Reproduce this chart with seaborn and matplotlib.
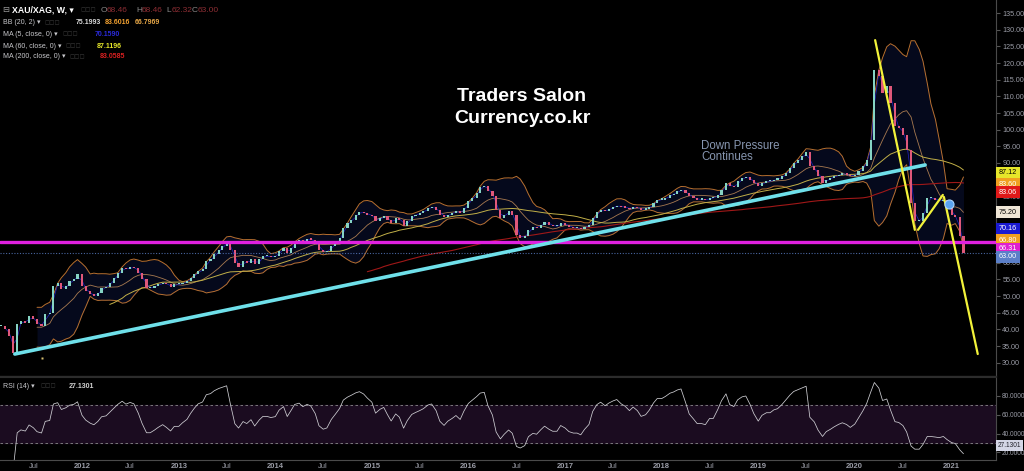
import numpy as np
import pandas as pd
import matplotlib
matplotlib.use("Agg")
import matplotlib.pyplot as plt
import seaborn as sns

# ---------------- data (semi-monthly closes) ----------------
start_date = "2011-03-01"
closes_2011 = [41.0, 40.0, 38.0, 33.0, 41.5, 42.5, 42.0, 44.0, 43.0, 41.5, 41.0, 44.5,
               44.8, 53.0, 54.0, 52.0, 53.0, 54.5, 55.0, 56.5]
closes_2012 = [53.0, 51.5, 50.5, 50.0, 51.0, 52.5, 52.8, 54.0, 55.5, 57.0, 58.5, 58.0,
               58.7, 58.5, 57.0, 55.0, 52.5, 52.5, 53.0, 53.5, 54.0, 53.5, 52.8, 53.5]
closes_2013 = [53.5, 54.0, 54.5, 55.5, 56.5, 57.5, 58.0, 60.5, 61.0, 62.5, 64.0, 65.0,
               66.3, 64.0, 60.0, 58.8, 60.5, 60.0, 61.0, 59.5, 61.0, 62.0, 62.0, 61.8]
closes_2014 = [62.0, 63.5, 64.5, 63.0, 64.5, 66.5, 67.0, 66.5, 67.2, 67.0, 66.0, 64.0,
               63.3, 63.5, 65.0, 66.0, 67.5, 70.5, 72.0, 73.0, 74.5, 75.3, 75.0, 74.5]
closes_2015 = [74.0, 72.5, 73.5, 74.0, 73.0, 72.0, 73.5, 73.0, 71.0, 72.5, 74.0, 74.5,
               75.0, 75.5, 76.5, 76.8, 76.0, 74.5, 73.8, 74.5, 75.0, 75.5, 75.0, 76.5]
closes_2016 = [78.5, 79.5, 81.0, 82.8, 83.2, 81.5, 80.0, 76.0, 73.5, 74.5, 75.5, 74.5,
               68.5, 67.5, 68.0, 70.0, 70.8, 70.5, 71.5, 72.3, 71.5, 71.0, 71.0, 72.0]
closes_2017 = [71.5, 70.8, 70.5, 70.5, 70.2, 70.8, 71.4, 73.5, 75.2, 75.9, 75.5, 76.2,
               76.8, 77.2, 76.8, 76.6, 76.2, 76.8, 76.5, 76.0, 76.2, 76.8, 78.0, 79.0]
closes_2018 = [79.0, 79.5, 80.4, 80.8, 81.5, 81.9, 81.0, 80.0, 79.5, 79.0, 79.0, 78.9,
               79.5, 79.5, 80.5, 82.0, 84.0, 83.0, 82.8, 84.5, 85.5, 85.8, 85.0, 84.0]
closes_2019 = [83.0, 84.0, 84.5, 84.5, 85.0, 85.2, 86.0, 87.0, 88.5, 90.0, 91.0, 92.0,
               93.3, 89.0, 88.0, 86.0, 84.0, 85.0, 85.5, 86.0, 86.5, 86.8, 86.5, 86.0]
closes_2020 = [86.5, 87.5, 89.0, 91.0, 97.0, 118.0, 116.0, 111.0, 113.0, 108.0, 101.0, 100.5,
               98.5, 94.0, 78.0, 72.5, 72.5, 75.0, 79.5, 79.5, 79.0, 78.5, 79.0, 76.8]
closes_2021 = [74.5, 73.8, 68.0, 63.0]

# drawn trend lines (date, ratio)
cyan_line_dates = ["2011-04-22", "2020-09-23"]
cyan_line_values = [32.6, 89.4]
yellow_lines_dates = [["2020-03-18", "2020-08-15"], ["2020-08-27", "2020-11-29"],
                      ["2020-12-03", "2021-04-10"]]
yellow_lines_values = [[126.9, 69.9], [69.9, 80.4], [79.8, 32.6]]
support_level = 66.31
last_price = 63.00
idea_marker = ("2020-12-22", 77.7)
small_marker = ("2011-08-02", 31.4)

# price-scale tags (value, text, background, text colour, nudge px)
tag_values = [87.12, 83.60, 83.06, 75.20, 70.16, 66.80, 66.31, 63.00]
tag_texts = ["87.12", "83.60", "83.06", "75.20", "70.16", "66.80", "66.31", "63.00"]
tag_bg = ["#e6e62a", "#f0a020", "#e01818", "#efe6d6", "#1a1ad2", "#f0a020", "#e020d0", "#5b7fc8"]
tag_fg = ["black", "white", "white", "black", "white", "white", "white", "white"]
tag_nudge = [0, 0, -6, 0, 0, 0, -7, -4]

price_ticks = list(range(30, 140, 5))
hidden_price_ticks = [65, 70, 75]   # covered by the price tags in the reference
rsi_ticks = [20, 40, 60, 80]
rsi_last_text = "27.1301"

# legend texts
legend_rows = ["BB (20, 2) \u25be", "MA (5, close, 0) \u25be", "MA (60, close, 0) \u25be",
               "MA (200, close, 0) \u25be"]
bb_values = ["75.1993", "83.6016", "66.7969"]
ma_values = ["70.1590", "87.1196", "83.0585"]
ohlc_labels = ["O", "H", "L", "C"]
ohlc_values = ["68.46", "68.46", "62.32", "63.00"]

# ---------------- derived series ----------------
closes = (closes_2011 + closes_2012 + closes_2013 + closes_2014 + closes_2015 + closes_2016
          + closes_2017 + closes_2018 + closes_2019 + closes_2020 + closes_2021)
dates = pd.date_range(start_date, periods=len(closes), freq="SMS")
df = pd.DataFrame({"date": dates, "close": closes})
df["open"] = df["close"].shift(1).fillna(df["close"])
basis = df["close"].rolling(10).mean()
dev = df["close"].rolling(10).std(ddof=0)
df["bb_mid"] = basis
df["bb_up"] = basis + 2 * dev
df["bb_lo"] = basis - 2 * dev
df["ma5"] = df["close"].rolling(2).mean()
df["ma60"] = df["close"].rolling(28).mean()
df["ma200"] = df["close"].rolling(92).mean()
delta = df["close"].diff()
gain = delta.clip(lower=0).ewm(alpha=1 / 9, adjust=False).mean()
loss = (-delta.clip(upper=0)).ewm(alpha=1 / 9, adjust=False).mean()
df["rsi"] = 100 - 100 / (1 + gain / loss)
df.loc[0, "rsi"] = np.nan

# ---------------- figure ----------------
sns.set_style("dark")
plt.rcParams["font.family"] = ["Liberation Sans", "DejaVu Sans"]
plt.rcParams["axes.facecolor"] = "black"
plt.rcParams["figure.facecolor"] = "black"

W, H = 1024, 471
def fx(x):
    return x / W
def fy(y):
    return 1 - y / H

fig = plt.figure(figsize=(W / 100, H / 100), dpi=100, facecolor="black")
ax = fig.add_axes([0, fy(376), 996 / W, 376 / H])
axr = fig.add_axes([0, fy(460), 996 / W, (460 - 377) / H], sharex=ax)
for a in (ax, axr):
    a.set_facecolor("black")
    a.grid(False)

# Bollinger fill
bb = df.dropna(subset=["bb_up"])
ax.fill_between(bb["date"], bb["bb_lo"], bb["bb_up"], color="#0a1030", alpha=0.6, lw=0, zorder=1)

# candles
up = df["close"] >= df["open"]
body_lo = np.minimum(df["open"], df["close"])
body_h = np.maximum((df["close"] - df["open"]).abs(), 0.35)
ax.bar(df["date"], body_h, bottom=body_lo, width=8,
       color=np.where(up, "#86d4c4", "#e0587a"), linewidth=0, zorder=4)

# indicator lines
def line(col, color, lw, z):
    d = df.dropna(subset=[col])
    sns.lineplot(x=d["date"], y=d[col], ax=ax, color=color, lw=lw, zorder=z, legend=False)

line("bb_up", "#b87030", 0.7, 3)
line("bb_lo", "#b87030", 0.7, 3)
line("bb_mid", "#a87a50", 0.6, 3)
line("ma200", "#a01818", 0.8, 3)
line("ma60", "#c2b048", 0.7, 3)
line("ma5", "#2222c0", 0.5, 3)

# levels
ax.axhline(support_level, color="#e020e0", lw=2.4, zorder=5)
ax.axhline(last_price, color="#5b7fc8", lw=0.8, ls=(0, (1, 1.5)), alpha=0.8, zorder=5)

# trend lines
ax.plot(pd.to_datetime(cyan_line_dates), cyan_line_values, color="#6fe0ea", lw=2.6,
        solid_capstyle="round", zorder=6)
for ds, vs in zip(yellow_lines_dates, yellow_lines_values):
    ax.plot(pd.to_datetime(ds), vs, color="#f2f23a", lw=1.6, zorder=6)
ax.plot([pd.Timestamp(idea_marker[0])], [idea_marker[1]], marker="o", ms=6.5,
        mfc="#5aa4f2", mec="#a8d4ff", mew=0.8, zorder=7)
ax.plot([pd.Timestamp(small_marker[0])], [small_marker[1]], marker="s", ms=1.8,
        mfc="#d8c070", mec="none", zorder=7)

# price axis
ax.set_xlim(pd.Timestamp("2011-02-25"), pd.Timestamp("2021-06-18"))
ax.set_ylim(26.0, 138.95)
ax.yaxis.tick_right()
ax.set_yticks(price_ticks)
ax.set_yticklabels(["" if v in hidden_price_ticks else f"{v:.2f}" for v in price_ticks])
ax.tick_params(axis="y", labelcolor="#9a9ca6", labelsize=5.2, length=3, color="#555555", pad=1.5)
ax.tick_params(axis="x", labelbottom=False, length=0)
ax.set_xlabel("")
ax.set_ylabel("")
for s in ("top", "left"):
    ax.spines[s].set_visible(False)
ax.spines["right"].set_color("#4a4a4a")
ax.spines["right"].set_linewidth(0.8)
ax.spines["bottom"].set_color("#2c2c2c")
ax.spines["bottom"].set_linewidth(1.0)

for v, t, bg, fg, nd in zip(tag_values, tag_texts, tag_bg, tag_fg, tag_nudge):
    ax.annotate(t, xy=(1, v), xycoords=("axes fraction", "data"), xytext=(3, nd),
                textcoords="offset pixels", ha="left", va="center", fontsize=5.2, color=fg,
                bbox=dict(boxstyle="square,pad=0.35", fc=bg, ec="none"), annotation_clip=False,
                zorder=10)

# RSI pane
axr.axhspan(30, 70, color="#1b0c20", zorder=0)
axr.axhline(70, color="#8a8a8a", lw=0.6, ls=(0, (3, 3)), zorder=1)
axr.axhline(30, color="#8a8a8a", lw=0.6, ls=(0, (3, 3)), zorder=1)
r = df.dropna(subset=["rsi"])
sns.lineplot(x=r["date"], y=r["rsi"], ax=axr, color="#cfcfd4", lw=0.55, zorder=3, legend=False)
axr.set_ylim(12.1, 99.5)
axr.yaxis.tick_right()
axr.set_yticks(rsi_ticks)
axr.set_yticklabels([f"{v:.4f}" for v in rsi_ticks])
axr.tick_params(axis="y", labelcolor="#9a9ca6", labelsize=4.7, length=3, color="#555555", pad=1.2)
axr.set_xlabel("")
axr.set_ylabel("")
axr.spines["left"].set_visible(False)
axr.spines["right"].set_color("#4a4a4a")
axr.spines["right"].set_linewidth(0.8)
axr.spines["top"].set_color("#2c2c2c")
axr.spines["bottom"].set_color("#4a4a4a")
axr.spines["bottom"].set_linewidth(0.8)
axr.annotate(rsi_last_text, xy=(1, 27.13), xycoords=("axes fraction", "data"), xytext=(2, 0),
             textcoords="offset pixels", ha="left", va="center", fontsize=4.7, color="#20202a",
             bbox=dict(boxstyle="square,pad=0.3", fc="#d4d6e6", ec="none"), annotation_clip=False,
             zorder=10)

tick_dates, tick_labels, tick_bold = [], [], []
for y in range(2011, 2022):
    if y > 2011:
        tick_dates.append(pd.Timestamp(f"{y}-01-01")); tick_labels.append(str(y)); tick_bold.append(True)
    if y < 2021:
        tick_dates.append(pd.Timestamp(f"{y}-07-01")); tick_labels.append("Jul"); tick_bold.append(False)
axr.set_xticks(tick_dates)
axr.set_xticklabels(tick_labels)
axr.tick_params(axis="x", labelcolor="#9a9ca6", labelsize=5.5, length=0, pad=2.5)
for lab, b in zip(axr.get_xticklabels(), tick_bold):
    if b:
        lab.set_fontweight("bold")

# overlay texts
fig.text(fx(522), fy(101), "Traders Salon", ha="center", va="baseline", fontsize=14,
         fontweight="bold", color="white")
fig.text(fx(522), fy(123), "Currency.co.kr", ha="center", va="baseline", fontsize=14,
         fontweight="bold", color="white")
fig.text(fx(701), fy(149), "Down Pressure", ha="left", va="baseline", fontsize=8.3, color="#8796b0")
fig.text(fx(701), fy(160), "Continues", ha="left", va="baseline", fontsize=8.3, color="#8796b0")

# legend block
lc = "#c8c8cc"
box = "\u25fb\u25fb\u25fb"
fig.text(fx(2), fy(10), "\u229f", ha="left", va="center", fontsize=6, color="#9a9a9a")
fig.text(fx(12), fy(10), "XAU/XAG, W, \u25be", ha="left", va="center", fontsize=6.3,
         fontweight="bold", color="white")
fig.text(fx(80), fy(10), box, ha="left", va="center", fontsize=4.5, color="#3a3a3a")
ox = [101, 136, 166, 192]
for x0, l, v in zip(ox, ohlc_labels, ohlc_values):
    fig.text(fx(x0), fy(10), l, ha="left", va="center", fontsize=6, color="#8a8a8a")
    fig.text(fx(x0 + 6), fy(10), v, ha="left", va="center", fontsize=6, color="#8e2e34")

row_y = [23, 34, 46, 57]
box_x = [44, 62, 65, 69]
for yy, txt, bx in zip(row_y, legend_rows, box_x):
    fig.text(fx(3), fy(yy), txt, ha="left", va="center", fontsize=5, color=lc)
    fig.text(fx(bx), fy(yy), box, ha="left", va="center", fontsize=4.5, color="#3a3a3a")
bb_x = [76, 105, 135]
bb_c = ["#d8d8d8", "#f0a030", "#e8a848"]
for x0, v, c in zip(bb_x, bb_values, bb_c):
    fig.text(fx(x0), fy(23), v, ha="left", va="center", fontsize=5, fontweight="bold", color=c)
ma_x = [95, 97, 100]
ma_c = ["#2a2ad8", "#e6e62a", "#d82020"]
for x0, yy, v, c in zip(ma_x, row_y[1:], ma_values, ma_c):
    fig.text(fx(x0), fy(yy), v, ha="left", va="center", fontsize=5, fontweight="bold", color=c)

fig.text(fx(3), fy(386), "RSI (14) \u25be", ha="left", va="center", fontsize=5, color=lc)
fig.text(fx(40), fy(386), box, ha="left", va="center", fontsize=4.5, color="#3a3a3a")
fig.text(fx(69), fy(386), rsi_last_text, ha="left", va="center", fontsize=5, fontweight="bold",
         color="#d0d0d0")

fig.savefig("out.png", dpi=100, facecolor="black")
